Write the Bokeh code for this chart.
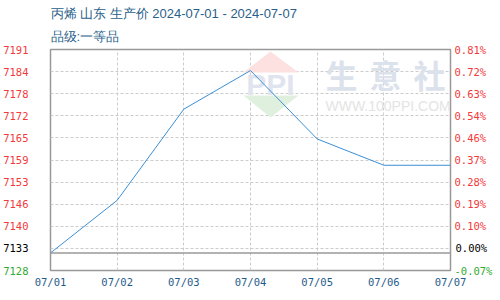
from bokeh.plotting import figure
from bokeh.models import FixedTicker, Range1d, LinearAxis, Span, Label, Title, PolyAnnotation
from bokeh.embed import file_html
from bokeh.resources import INLINE

# ---- data ----
dates = ["07/01", "07/02", "07/03", "07/04", "07/05", "07/06", "07/07"]
prices = [7133, 7148, 7174, 7185, 7165.5, 7158, 7158]
base_price = 7133
y_min, y_max = 7128, 7191
left_labels = ["7128", "7133", "7140", "7146", "7153", "7159", "7165", "7172", "7178", "7184", "7191"]
right_labels = ["-0.07%", "0.00%", "0.10%", "0.19%", "0.28%", "0.37%", "0.46%", "0.54%", "0.63%", "0.72%", "0.81%"]
title_main = "丙烯 山东 生产价 2024-07-01 - 2024-07-07"
title_sub = "品级:一等品"

n = len(left_labels) - 1
y_ticks = [y_min + (y_max - y_min) * k / n for k in range(n + 1)]
x_idx = list(range(len(dates)))

RED = "#f23a3a"
GREEN = "#33aa33"
BLUE_TXT = "#1f5c8c"
TITLE_C = "#2a5f8a"
MONO = "DejaVu Sans Mono"
FS = "10.5px"

p = figure(width=500, height=300, output_backend="svg", toolbar_location=None,
           x_range=Range1d(0, len(dates) - 1), y_range=Range1d(y_min, y_max),
           min_border_left=50, min_border_right=50, min_border_top=49, min_border_bottom=30)
p.background_fill_color = "white"
p.border_fill_color = "white"
p.outline_line_color = "#999999"
p.outline_line_width = 1.5

# titles
p.title.visible = False
p.add_layout(Title(text=title_sub, text_font="Liberation Sans", text_font_size="13px",
                   text_font_style="normal", text_color=TITLE_C, offset=0, standoff=12), "above")
p.add_layout(Title(text=title_main, text_font="Liberation Sans", text_font_size="13px",
                   text_font_style="normal", text_color=TITLE_C, offset=0, standoff=0), "above")


def style_axis(ax, color, standoff):
    ax.axis_line_color = None
    ax.major_tick_line_color = None
    ax.minor_tick_line_color = None
    ax.major_tick_out = 0
    ax.major_tick_in = 0
    ax.minor_tick_out = 0
    ax.minor_tick_in = 0
    ax.major_label_text_color = color
    ax.major_label_text_font = MONO
    ax.major_label_text_font_size = FS
    ax.major_label_standoff = standoff


# x axis
p.xaxis.ticker = FixedTicker(ticks=x_idx)
p.xaxis.major_label_overrides = {i: d for i, d in enumerate(dates)}
style_axis(p.xaxis[0], BLUE_TXT, 5)

# left y axis (red labels)
p.yaxis.ticker = FixedTicker(ticks=y_ticks[2:])
p.yaxis.major_label_overrides = {t: l for t, l in zip(y_ticks[2:], left_labels[2:])}
style_axis(p.yaxis[0], RED, 22)

# special-coloured left labels: outer axes pulled back into the same column
for k, col in ((1, "black"), (0, GREEN)):
    ax = LinearAxis(ticker=FixedTicker(ticks=[y_ticks[k]]))
    ax.major_label_overrides = {y_ticks[k]: left_labels[k]}
    style_axis(ax, col, -28)
    p.add_layout(ax, "left")

# right y axis
p.extra_y_ranges = {"pct": Range1d(y_min, y_max)}
ra = LinearAxis(y_range_name="pct", ticker=FixedTicker(ticks=y_ticks[2:]))
ra.major_label_overrides = {t: l for t, l in zip(y_ticks[2:], right_labels[2:])}
style_axis(ra, RED, 4)
p.add_layout(ra, "right")
for k, col, so in ((1, "black", -34), (0, GREEN, -36)):
    ax = LinearAxis(y_range_name="pct", ticker=FixedTicker(ticks=[y_ticks[k]]))
    ax.major_label_overrides = {y_ticks[k]: right_labels[k]}
    style_axis(ax, col, so)
    p.add_layout(ax, "right")

# grids
p.xgrid.ticker = FixedTicker(ticks=x_idx)
p.ygrid.ticker = FixedTicker(ticks=y_ticks)
for g in (p.xgrid, p.ygrid):
    g.grid_line_color = "#cccccc"
    g.grid_line_dash = "3 2"
    g.grid_line_width = 1

# base line
p.add_layout(Span(location=base_price, dimension="width", line_color="#999999", line_width=1.5))

# watermark (screen units: from frame left / frame bottom)
p.add_layout(PolyAnnotation(xs=[220, 193, 248], ys=[219, 198, 198], xs_units="screen", ys_units="screen",
                            fill_color="#fde0e0", fill_alpha=1, line_color=None, level="underlay"))
p.add_layout(PolyAnnotation(xs=[193, 248, 220], ys=[175, 175, 153], xs_units="screen", ys_units="screen",
                            fill_color="#dff0df", fill_alpha=1, line_color=None, level="underlay"))
p.add_layout(Label(x=220, y=186, x_units="screen", y_units="screen", text="PPI", text_align="center",
                   text_baseline="middle", text_font="Liberation Sans", text_font_style="bold",
                   text_font_size="30px", text_color="#dfe4ee", level="underlay"))
for cx, ch in ((291, "生"), (335, "意"), (379, "社")):
    p.add_layout(Label(x=cx, y=197, x_units="screen", y_units="screen", text=ch, text_align="center",
                       text_baseline="middle", text_font="Noto Sans CJK SC", text_font_style="bold",
                       text_font_size="32px", text_color="#dce2ec", level="underlay"))
p.add_layout(Label(x=275, y=165, x_units="screen", y_units="screen", text="WWW.100PPI.COM", text_align="left",
                   text_baseline="middle", text_font="Liberation Sans", text_font_size="14px",
                   text_color="#e4e4e4", level="underlay"))

# line
p.line(x_idx, prices, line_color="#3a8fd6", line_width=1)

open("out.html", "w").write(file_html(p, INLINE))
